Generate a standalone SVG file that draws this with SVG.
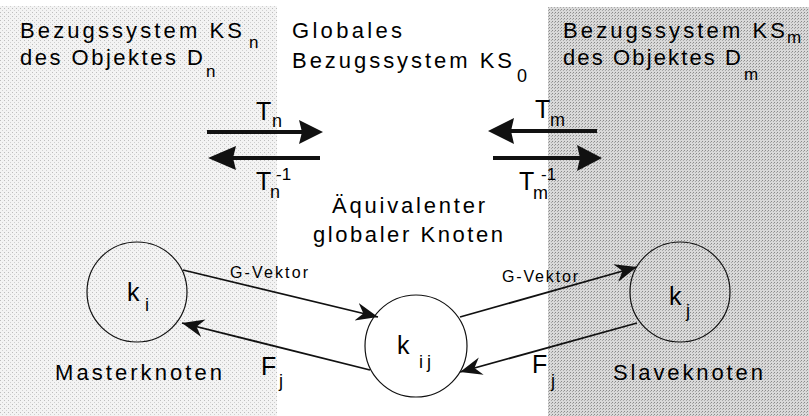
<svg xmlns="http://www.w3.org/2000/svg" width="809" height="416" viewBox="0 0 809 416">
<defs>
<style>
text{font-family:"Liberation Sans",Arial,sans-serif;fill:#000}
.big{font-size:22px}
.sub{font-size:17px}
.t{font-size:25px}
.ts{font-size:18px}
.k{font-size:25px}
.ks{font-size:18px}
.g{font-size:16px}
.node{fill:none;stroke:#111;stroke-width:1.2}
.conn{fill:none;stroke:#111;stroke-width:1.8}
.tarrow{fill:none;stroke:#111;stroke-width:4}
</style>
<marker id="barb" viewBox="-22 -10 24 20" refX="0" refY="0" markerWidth="24" markerHeight="20" markerUnits="userSpaceOnUse" orient="auto">
<path d="M0,0 L-22,-9 L-15,0 L-22,9 Z" fill="#111"/>
</marker>
<pattern id="dotsL" width="4" height="4" patternUnits="userSpaceOnUse">
<rect width="4" height="4" fill="#f3f3f3"/>
<rect x="0" y="0" width="1" height="1" fill="#bdbdbd"/>
<rect x="2" y="2" width="1" height="1" fill="#d0d0d0"/>
</pattern>
<pattern id="dotsR" width="3" height="3" patternUnits="userSpaceOnUse">
<rect width="3" height="3" fill="#d9d9d9"/>
<rect x="0" y="0" width="1" height="1" fill="#8a8a8a"/>
<rect x="2" y="1" width="1" height="1" fill="#a8a8a8"/>
</pattern>
</defs>
<rect width="809" height="416" fill="#fff"/>
<g id="regions">
<rect x="0" y="6" width="277" height="410" fill="url(#dotsL)"/>
<rect x="548" y="7" width="261" height="409" fill="url(#dotsR)"/>
</g>
<g id="titles">
<text class="big" x="20" y="38" textLength="222" lengthAdjust="spacing">Bezugssystem KS</text>
<text class="sub" x="249" y="48">n</text>
<text class="big" x="20" y="65" textLength="183" lengthAdjust="spacing">des Objektes D</text>
<text class="sub" x="206" y="77">n</text>
<text class="big" x="292" y="38" textLength="110" lengthAdjust="spacing">Globales</text>
<text class="big" x="292" y="68" textLength="220" lengthAdjust="spacing">Bezugssystem KS</text>
<text class="ts" x="517" y="82">0</text>
<text class="big" x="563" y="38" textLength="222" lengthAdjust="spacing">Bezugssystem KS</text>
<text class="sub" x="787" y="43">m</text>
<text class="big" x="563" y="65" textLength="178" lengthAdjust="spacing">des Objektes D</text>
<text class="sub" x="744" y="80">m</text>
<text class="big" x="332" y="213" textLength="153" lengthAdjust="spacing">Äquivalenter</text>
<text class="big" x="313" y="242" textLength="190" lengthAdjust="spacing">globaler Knoten</text>
<text class="big" x="55" y="380" textLength="167" lengthAdjust="spacing">Masterknoten</text>
<text class="big" x="613" y="380" textLength="150" lengthAdjust="spacing">Slaveknoten</text>
</g>
<g id="transforms">
<line class="tarrow" x1="207" y1="132" x2="302" y2="132"/>
<path d="M323,132 L299,120 L302,132 L299,144 Z" fill="#111"/>
<line class="tarrow" x1="233" y1="158" x2="320" y2="158"/>
<path d="M208,158 L236,146 L233,158 L236,170 Z" fill="#111"/>
<line class="tarrow" x1="511" y1="131" x2="597" y2="131"/>
<path d="M488,131 L514,118 L511,131 L514,144 Z" fill="#111"/>
<line class="tarrow" x1="493" y1="158" x2="580" y2="158"/>
<path d="M602,158 L577,145 L580,158 L577,171 Z" fill="#111"/>
<text class="t" x="256" y="120">T</text>
<text class="ts" x="272" y="127">n</text>
<text class="t" x="256" y="190">T</text>
<text class="ts" x="270" y="198">n</text>
<text class="sub" x="276" y="180">-1</text>
<text class="t" x="535" y="118">T</text>
<text class="ts" x="550" y="126">m</text>
<text class="t" x="519" y="190">T</text>
<text class="ts" x="533" y="199">m</text>
<text class="sub" x="541" y="180">-1</text>
</g>
<g id="connectors">
<line class="conn" x1="183" y1="270" x2="378" y2="317" marker-end="url(#barb)"/>
<line class="conn" x1="370" y1="370" x2="182" y2="323" marker-end="url(#barb)"/>
<line class="conn" x1="460" y1="317" x2="637" y2="267" marker-end="url(#barb)"/>
<line class="conn" x1="637" y1="323" x2="460" y2="372" marker-end="url(#barb)"/>
<text class="g" x="230" y="278" textLength="78" lengthAdjust="spacing">G-Vektor</text>
<text class="g" x="502" y="282" textLength="76" lengthAdjust="spacing">G-Vektor</text>
<text class="k" x="261" y="375">F</text>
<text class="ks" x="279" y="387">j</text>
<text class="k" x="532" y="373">F</text>
<text class="ks" x="551" y="387">j</text>
</g>
<g id="node-ki">
<circle class="node" cx="137" cy="292" r="50"/>
<text class="k" x="127" y="301">k</text>
<text class="ks" x="145" y="311">i</text>
</g>
<g id="node-kij">
<circle class="node" cx="416" cy="346" r="51"/>
<text class="k" x="397" y="354">k</text>
<text class="ks" x="419" y="368" letter-spacing="4">ij</text>
</g>
<g id="node-kj">
<circle class="node" cx="680" cy="292" r="50"/>
<text class="k" x="669" y="305">k</text>
<text class="ks" x="686" y="317">j</text>
</g>
</svg>
